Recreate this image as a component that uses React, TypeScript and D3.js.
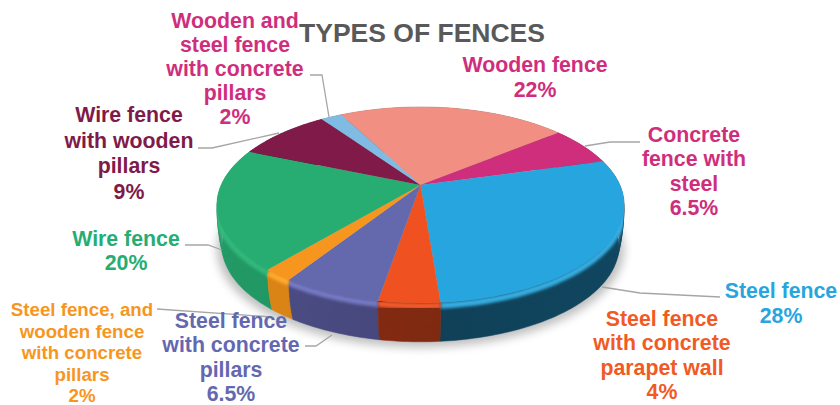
import React from "react";
import * as d3 from "d3";

const categories = ["Wooden fence","Concrete fence with steel","Steel fence","Steel fence with concrete parapet wall","Steel fence with concrete pillars","Steel fence, and wooden fence with concrete pillars","Wire fence","Wire fence with wooden pillars","Wooden and steel fence with concrete pillars"];
const values = [22, 6.5, 28, 4, 6.5, 2, 20, 9, 2];
const valueLabels = ["22%","6.5%","28%","4%","6.5%","2%","20%","9%","2%"];
const topColors = ["#f08f82","#cf2e7d","#27a5df","#ef5121","#6468ad","#f7961e","#27ad72","#7f1a49","#7fbbe3"];
const wallColors = ["#a8645b","#8f2057","#114660","#8a2d12","#4b4d85","#de8714","#229a66","#58122f","#5a849f"];
const rimColors = ["#f5a79c","#e055a0","#35aee3","#f25a2a","#7579c4","#ffa92e","#30b87c","#a03068","#a5d3ef"];
const labelLines = [
  ["Wooden fence"],
  ["Concrete","fence with","steel"],
  ["Steel fence"],
  ["Steel fence","with concrete","parapet wall"],
  ["Steel fence","with concrete","pillars"],
  ["Steel fence, and","wooden fence","with concrete","pillars"],
  ["Wire fence"],
  ["Wire fence","with wooden","pillars"],
  ["Wooden and","steel fence","with concrete","pillars"],
];
const labelColors = ["#cf2e7d","#cf2e7d","#27a5df","#f15a24","#6468b0","#f7961e","#25ad73","#7f1a49","#cf2e7d"];
// label layout: centre x, centre y of first line, line height, font size
const labelLayout = [
  [535,65,24.5,21.3],[694,135,24.3,21.3],[781,291,25,21.3],[662,319,24.3,21.3],[231,321,24.4,21.3],
  [82,309,21.5,18.7],[126,239,24,21.3],[129,115,25.5,21.3],[235,21,24,21.3],
];
const leaders = [
  [[310,75],[322,75],[329,117]],
  [[585,146],[610,142],[640,142]],
  [[602,287],[640,293],[720,297]],
  [[157,309],[272,317]],
  [[305,346],[316,346],[332,335]],
  [[185,245],[208,245],[222,250]],
  [[198,148],[212,148],[279,133]],
];
const title = "TYPES OF FENCES";

const CX = 420.5, APEX_Y = 185, R = 199.3, B = 93.9, C = -0.204, DEPTH = 42.5, BOTTOM_R = 0.975;
const START = (-28 * Math.PI) / 180;
const LAYERS = d3.range(10, -1, -1).map(i => i / 10);

function project(a: number, r = 1, dz = 0): [number, number] {
  const v = r * Math.sin(a), u = -r * Math.cos(a);
  const d = 1 + C * u;
  return [CX + (R * v) / d, APEX_Y + (B * u) / d + dz];
}
const layerR = (t: number) => 1 - (1 - BOTTOM_R) * t * t;
const line = d3.line<[number, number]>().x(d => d[0]).y(d => d[1]);
const samples = (a0: number, a1: number) => {
  const n = Math.max(2, Math.ceil(Math.abs(a1 - a0) / 0.02));
  return d3.range(n + 1).map(i => a0 + ((a1 - a0) * i) / n);
};
const pie = d3.pie<number>().sort(null).startAngle(START).endAngle(START + 2 * Math.PI);
const arcs = pie(values);

const topPath = (a0: number, a1: number) =>
  line([project(0, 0), ...samples(a0, a1).map(a => project(a))])! + "Z";
// all bands of one slice's side wall, as one path so that no seam shows
const wallPath = (a0: number, a1: number) => {
  const s = samples(a0, a1);
  return LAYERS.slice(0, -1).map(t => {
    const t2 = t - 0.1;
    return line([
      ...s.map(a => project(a, layerR(t2), DEPTH * t2)),
      ...s.slice().reverse().map(a => project(a, layerR(t), DEPTH * t)),
    ])! + "Z";
  }).join("");
};
const rimPath = (a0: number, a1: number) => line(samples(a0, a1).map(a => project(a, 1, 3)))!;
const full = samples(0, 2 * Math.PI);
const outline = line(full.map(a => project(a, 1, DEPTH + 2)))! + "Z";
const discPath = (t: number) => line(full.map(a => project(a, layerR(t), DEPTH * t)))! + "Z";

const order = arcs.map((_, i) => i).sort((a, b) => {
  const m = (x: d3.PieArcDatum<number>) => -Math.cos((x.startAngle + x.endAngle) / 2);
  return m(arcs[a]) - m(arcs[b]);
});

export default function App() {
  return (
    <svg width={840} height={405} style={{ position: "absolute", left: 0, top: 0, background: "#fff" }}
      fontFamily="'Liberation Sans', Arial, sans-serif" fontWeight="bold">
      <defs>
        <filter id="sh" x="-20%" y="-20%" width="140%" height="140%"><feGaussianBlur stdDeviation="5" /></filter>
        <filter id="rim" x="-10%" y="-50%" width="120%" height="200%"><feGaussianBlur stdDeviation="1.8" /></filter>
        <linearGradient id="wallShade" gradientUnits="userSpaceOnUse" x1="217" x2="624" y1="0" y2="0">
          <stop offset="0" stopColor="#000" stopOpacity="0" />
          <stop offset="0.55" stopColor="#000" stopOpacity="0.08" />
          <stop offset="1" stopColor="#000" stopOpacity="0" />
        </linearGradient>
        <clipPath id="wallClip">
          {LAYERS.map(t => <path key={t} d={discPath(t)} />)}
        </clipPath>
      </defs>
      <path d={outline} fill="#000" opacity={0.25} filter="url(#sh)" />
      {order.map(i => (
        <path key={i} d={wallPath(arcs[i].startAngle, arcs[i].endAngle)} fill={wallColors[i]} fillRule="nonzero" stroke={wallColors[i]} strokeWidth={0.5} />
      ))}
      <g clipPath="url(#wallClip)">
        <rect x={200} y={90} width={440} height={270} fill="url(#wallShade)" />
        {arcs.map((d, i) => (
          <path key={i} d={rimPath(d.startAngle, d.endAngle)} fill="none" stroke={rimColors[i]} strokeWidth={6} filter="url(#rim)" />
        ))}
      </g>
      {arcs.map((d, i) => (
        <path key={i} d={topPath(d.startAngle, d.endAngle)} fill={topColors[i]} />
      ))}
      <g fill="none" stroke="#a6a6a6" strokeWidth={1.3}>
        {leaders.map((p, i) => <path key={i} d={line(p as [number, number][])!} />)}
      </g>
      <text x={422} y={42} textAnchor="middle" fontSize={26.5} fill="#595959">{title}</text>
      {categories.map((c, i) => {
        const [x, y, lh, fs] = labelLayout[i];
        return (
          <text key={c} x={x} textAnchor="middle" fontSize={fs} fill={labelColors[i]} dominantBaseline="central">
            {[...labelLines[i], valueLabels[i]].map((t, j) => (
              <tspan key={j} x={x} y={y + j * lh}>{t}</tspan>
            ))}
          </text>
        );
      })}
    </svg>
  );
}
